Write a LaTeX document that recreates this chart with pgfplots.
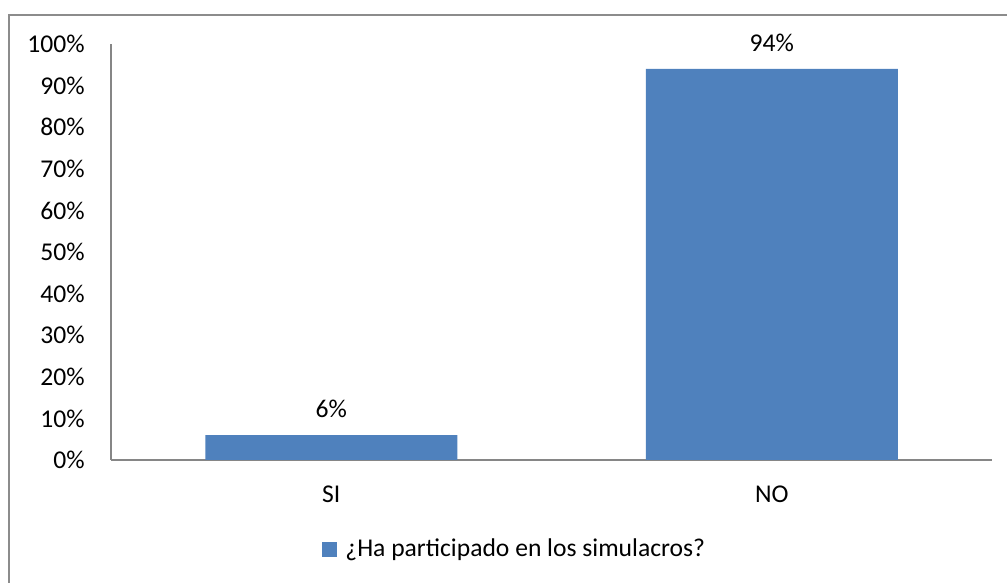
\documentclass[border=0pt]{standalone}
\usepackage{pgfplots}
\pgfplotsset{compat=1.18}
\usepackage{fontspec}
\setmainfont{Carlito}
\definecolor{barblue}{HTML}{4F81BD}
\definecolor{axisgray}{HTML}{868686}
\definecolor{framegray}{HTML}{8C8C8C}
\begin{document}
\fontsize{12.8pt}{15pt}\selectfont
\begin{tikzpicture}
\useasboundingbox (0,0) rectangle (503.5pt,291.5pt);
% chart frame (left and top edges)
\draw[framegray, line width=0.6pt] (4.5pt,-5pt) -- (4.5pt,284pt) -- (510pt,284pt);
\begin{axis}[
  at={(55.5pt,61.5pt)}, anchor=south west,
  scale only axis, width=440.5pt, height=208pt,
  ybar, bar width=126pt, bar shift=0pt,
  xmin=-0.5, xmax=1.5, ymin=0, ymax=100,
  enlargelimits=false,
  axis x line*=bottom, axis y line*=left,
  axis line style={axisgray, line width=0.75pt, -},
  major tick length=0pt,
  xtick={0,1}, xticklabels={SI,NO},
  ytick={0,10,...,100},
  yticklabels={0\%,10\%,20\%,30\%,40\%,50\%,60\%,70\%,80\%,90\%,100\%},
  yticklabel style={anchor=east, inner sep=0pt, xshift=-13pt},
  xticklabel style={anchor=base, inner sep=0pt, yshift=-21.5pt},
  /pgf/number format/assume math mode=true,
  nodes near coords={\pgfmathprintnumber{\pgfplotspointmeta}\%},
  nodes near coords style={anchor=base, inner sep=0pt, yshift=8.6pt, text=black},
  legend style={draw=none, fill=none, inner sep=0pt, at={(0.2395,-0.216)}, anchor=west,
    nodes={inner sep=0pt}, column sep=4pt, font=\fontsize{12.8pt}{15pt}\selectfont},
  legend image code/.code={\fill[barblue] (0pt,-3.4pt) rectangle (7.5pt,4.1pt);},
]
\addplot[fill=barblue, draw=none] coordinates {(0,6) (1,94)};
\addlegendentry{¿Ha participado en los simulacros?}
\end{axis}
\end{tikzpicture}
\end{document}
